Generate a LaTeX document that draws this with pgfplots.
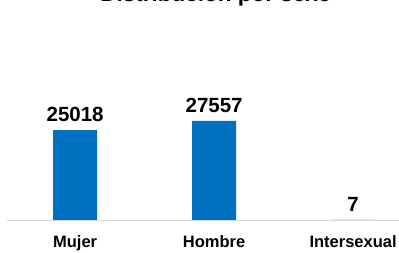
\documentclass[border=0pt]{standalone}
\usepackage{fontspec}
\setmainfont{Liberation Sans}
\usepackage{pgfplots}
\pgfplotsset{compat=1.18}
\definecolor{barblue}{HTML}{0070C0}
\definecolor{axgray}{HTML}{D9D9D9}
\begin{document}
\begin{tikzpicture}
\useasboundingbox (-7pt,-33pt) rectangle (392pt,220pt);
\begin{axis}[
  at={(0pt,0pt)}, anchor=south west,
  scale only axis, width=392pt, height=220pt,
  xmin=-0.49, xmax=2.33, ymin=0, ymax=61240,
  axis x line=bottom, axis y line=none,
  axis line style={axgray, line width=0.8pt, -},
  xtick={0,1,2}, xticklabels={Mujer,Hombre,Intersexual},
  major tick length=0pt,
  xticklabel style={font=\fontsize{16.5}{18}\selectfont\bfseries, anchor=base, yshift=-28pt, inner sep=0pt},
  ytick=\empty,
  ybar, bar width=0.317,
  nodes near coords,
  /pgf/number format/.cd, 1000 sep={}, assume math mode=true, /pgfplots/.cd,
  nodes near coords style={font=\fontsize{20.5}{22}\selectfont\bfseries, anchor=south, inner sep=0pt, yshift=8pt, text=black},
  clip=false,
]
\addplot[fill=barblue, draw=none] coordinates {(0,25018) (1,27557) (2,7)};
\end{axis}
\node[anchor=base, font=\fontsize{22.5}{24}\selectfont\bfseries] at (209pt,218pt) {Distribución por sexo};
\end{tikzpicture}
\end{document}
